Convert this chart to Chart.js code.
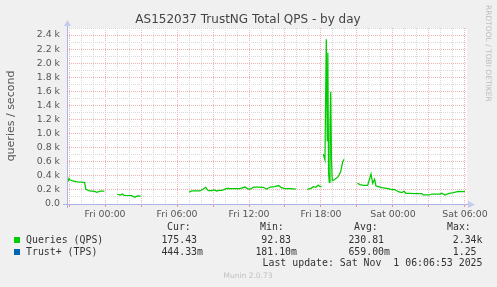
<!DOCTYPE html>
<html>
<head>
<meta charset="utf-8">
<title>AS152037 TrustNG Total QPS - by day</title>
<script src="https://cdn.jsdelivr.net/npm/chart.js@4"></script>
<style>
  html, body { margin: 0; padding: 0; background: #f0f0f0; }
</style>
</head>
<body>
<canvas id="graphique" width="497" height="287"></canvas>
<script>
// Heures depuis Fri 00:00 (null = trou dans les données)
const hours = [
  -3.10, -3.00, -2.90, -2.60, -2.30, -2.00, -1.70, -1.60, -1.30, -0.85, -0.70, -0.40, -0.05, 0.00,
  1.03, 1.30, 1.44, 1.60, 2.22, 2.50, 2.69, 2.98, 3.05,
  7.00, 7.22, 7.92, 8.19, 8.38, 8.61, 8.92, 9.13, 9.29, 9.50, 9.75, 10.14, 10.58, 11.25, 11.67, 11.94,
  12.13, 12.38, 12.78, 13.19, 13.46, 13.79, 14.13, 14.48, 14.69, 15.00, 15.42, 15.90, 15.95,
  16.86, 17.17, 17.36, 17.56, 17.78, 17.92, 18.06, 18.12,
  18.19, 18.33, 18.44, 18.52, 18.57, 18.63, 18.69, 18.75, 18.81, 18.87, 18.94, 19.17, 19.44, 19.64, 19.81, 19.92, 19.97,
  21.03, 21.25, 21.53, 21.89, 22.17, 22.31, 22.47, 22.58, 22.78, 23.06, 23.33, 23.61, 23.89, 24.11, 24.44,
  24.72, 24.92, 25.08, 25.42, 25.83, 26.39, 26.53, 27.03, 27.22, 27.92, 28.06, 28.33, 28.61, 29.03, 29.44, 30.00
];
const qps = [
  317, 365, 340, 325, 315, 310, 305, 210, 185, 178, 165, 183, 183, null,
  137, 128, 142, 123, 118, 95, 114, 112, null,
  166, 185, 185, 213, 237, 189, 189, 199, 185, 194, 194, 222, 218, 220, 241, 213,
  213, 241, 241, 237, 213, 241, 246, 262, 232, 218, 218, 213, null,
  209, 222, 246, 237, 270, 246, 251, null,
  710, 625, 2339, 900, 2150, 450, 308, 1100, 1595, 650, 330, 351, 388, 459, 601, 635, null,
  294, 275, 265, 265, 426, 294, 351, 256, 246, 232, 227, 218, 203, 209, 175,
  161, 180, 152, 152, 147, 147, 128, 128, 142, 142, 152, 128, 147, 161, 180, 175
];

const tpsHours = [-3.10, -1.60, -0.05, 0.00, 1.03, 2.98, 3.05, 7.00, 12.00, 15.90, 15.95,
  16.86, 18.44, 19.92, 19.97, 21.03, 25.00, 30.00];
const tps = [0.45, 0.60, 0.40, null, 0.30, 0.20, null, 0.50, 0.70, 0.60, null,
  0.50, 1.25, 0.90, null, 0.80, 0.50, 0.44];

// Étiquettes de l'axe du temps
const tickHours = [0, 6, 12, 18, 24, 30];
const tickNames = ['Fri 00:00', 'Fri 06:00', 'Fri 12:00', 'Fri 18:00', 'Sat 00:00', 'Sat 06:00'];

// Tableau de légende
const titre = 'AS152037 TrustNG Total QPS - by day';
const statHeaders = ['Cur:', 'Min:', 'Avg:', 'Max:'];
const qpsStats = ['175.43 ', '92.83 ', '230.81 ', '2.34k'];
const tpsStats = ['444.33m', '181.10m', '659.00m', '1.25 '];
const lastUpdate = 'Last update: Sat Nov  1 06:06:53 2025';

const red = '#f0b4b4';
const grey = '#d8d8d8';
const axisColor = '#a9b3e4';

const munin = {
  id: 'munin',
  beforeDraw(chart) {
    const { ctx, chartArea: a } = chart;
    ctx.save();
    ctx.fillStyle = '#f0f0f0';
    ctx.fillRect(0, 0, chart.width, chart.height);
    ctx.fillStyle = '#ffffff';
    ctx.fillRect(a.left, a.top, a.right - a.left, a.bottom - a.top);
    ctx.restore();
  },
  afterDatasetsDraw(chart) {
    // axes + flèches (par-dessus les données, comme rrdtool)
    const { ctx, chartArea: a } = chart;
    const ax = Math.round(a.left) + 0.5;
    const ay = Math.round(a.bottom) + 0.5;
    ctx.save();
    ctx.strokeStyle = axisColor;
    ctx.lineWidth = 1;
    ctx.beginPath();
    ctx.moveTo(a.left - 4, ay);
    ctx.lineTo(a.right + 2, ay);
    ctx.moveTo(ax, a.bottom + 4);
    ctx.lineTo(ax, a.top - 2);
    ctx.stroke();
    ctx.fillStyle = '#c4caf0';
    ctx.beginPath();
    ctx.moveTo(a.right + 1, ay - 3.5);
    ctx.lineTo(a.right + 8, ay);
    ctx.lineTo(a.right + 1, ay + 3.5);
    ctx.fill();
    ctx.beginPath();
    ctx.moveTo(ax - 3.5, a.top - 2);
    ctx.lineTo(ax, a.top - 8);
    ctx.lineTo(ax + 3.5, a.top - 2);
    ctx.fill();
    ctx.restore();
  },
  afterDraw(chart) {
    const { ctx } = chart;
    const sets = chart.data.datasets;
    const headerX = [167, 260, 354, 447];
    const valueX = [203, 297, 390, 482.5];
    ctx.save();

    // titre centré sur toute l'image
    ctx.font = '12px "DejaVu Sans"';
    ctx.fillStyle = '#444';
    ctx.textAlign = 'center';
    ctx.textBaseline = 'middle';
    ctx.fillText(titre, 248, 19.5);

    ctx.font = '9.9px "DejaVu Sans Mono"';
    ctx.fillStyle = '#333';
    ctx.textAlign = 'left';
    statHeaders.forEach((h, i) => ctx.fillText(h, headerX[i], 227.5));
    [qpsStats, tpsStats].forEach((row, r) => {
      const y = 240 + r * 12;
      ctx.fillStyle = sets[r].borderColor;
      ctx.fillRect(14, y - 3, 6, 6);
      ctx.fillStyle = '#333';
      ctx.textAlign = 'left';
      ctx.fillText(sets[r].label, 26, y);
      ctx.textAlign = 'right';
      row.forEach((v, i) => ctx.fillText(v, valueX[i], y));
    });
    ctx.fillText(lastUpdate, 482.5, 263.5);

    ctx.font = '7.5px "DejaVu Sans"';
    ctx.fillStyle = '#c0c0c0';
    ctx.textAlign = 'center';
    ctx.fillText('Munin 2.0.73', 248, 276);

    ctx.translate(488, 5);
    ctx.rotate(Math.PI / 2);
    ctx.textAlign = 'left';
    ctx.fillStyle = '#bdbdbd';
    ctx.fillText('RRDTOOL / TOBI OETIKER', 0, 0);
    ctx.restore();
  }
};

const tickFont = { family: 'DejaVu Sans', size: 9.4 };

const ctx = document.getElementById('graphique').getContext('2d');
new Chart(ctx, {
  type: 'line',
  data: {
    datasets: [{
      label: 'Queries (QPS)',
      data: hours.map((h, i) => ({ x: h, y: qps[i] })),
      borderColor: '#00cc00',
      borderWidth: 1.25,
      pointRadius: 0,
      tension: 0,
      spanGaps: false
    }, {
      label: 'Trust+ (TPS)',
      data: tpsHours.map((h, i) => ({ x: h, y: tps[i] })),
      borderColor: '#0066b3',
      borderWidth: 1,
      pointRadius: 0,
      tension: 0,
      spanGaps: false,
      clip: { left: 0, top: 0, right: 0, bottom: -1 } // caché sous l'axe
    }]
  },
  options: {
    responsive: false,
    animation: false,
    layout: { padding: { left: 0, right: 30, top: 28, bottom: 0 } },
    plugins: {
      legend: { display: false },
      tooltip: { enabled: false },
      title: { display: false }
    },
    scales: {
      x: {
        type: 'linear',
        min: -3.167,
        max: 30.167,
        afterFit: s => { s.height = 83; },
        ticks: {
          stepSize: 1,
          includeBounds: false,
          autoSkip: false,
          maxRotation: 0,
          padding: 2,
          color: '#555',
          font: tickFont,
          callback: v => {
            const i = tickHours.indexOf(v);
            return i >= 0 ? tickNames[i] : '';
          }
        },
        grid: {
          color: c => (c.tick && Math.round(c.tick.value) % 3 === 0) ? red : grey,
          tickColor: c => (c.tick && Math.round(c.tick.value) % 3 === 0) ? '#ee9090' : 'rgba(0,0,0,0)',
          tickLength: 3,
          lineWidth: 1
        },
        border: { display: false, dash: [1, 1] }
      },
      y: {
        min: 0,
        max: 2500,
        afterFit: s => { s.width = 67; },
        ticks: {
          stepSize: 100,
          autoSkip: false,
          padding: 7,
          color: '#555',
          font: tickFont,
          callback: v => {
            if (v % 200 !== 0) return '';
            return v === 0 ? '0.0' : (v / 1000).toFixed(1) + ' k';
          }
        },
        grid: {
          color: c => (c.tick && c.tick.value % 200 === 0) ? red : grey,
          drawTicks: false,
          lineWidth: 1
        },
        border: { display: false, dash: [1, 1] },
        title: {
          display: true,
          text: 'queries / second',
          color: '#555',
          font: { family: 'DejaVu Sans', size: 11 },
          padding: { top: 4.4, bottom: 0 }
        }
      }
    }
  },
  plugins: [munin]
});
</script>
</body>
</html>
